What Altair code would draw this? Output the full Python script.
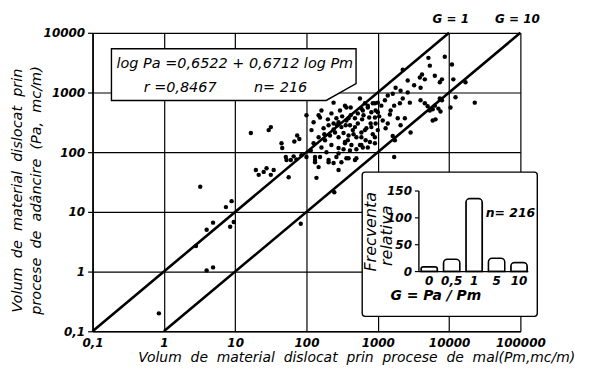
import altair as alt
import pandas as pd

FONT = "DejaVu Sans"
NB = "\u00a0"

# ---- scatter data (log10 of Pm and Pa) ----
log_pm = [
    -0.07, 0.51, 0.60, 0.69, 0.45, 0.60, 0.69, 0.87, 0.95, 0.93, 0.98, 1.92, 2.39,
    1.22, 1.47, 1.50, 1.65, 1.66, 1.87, 1.90, 1.83, 2.00, 2.17, 2.38, 1.29, 1.33, 1.40, 1.44, 1.50, 1.54,
    1.75, 1.71, 1.78, 1.82, 1.86, 1.93, 2.00, 2.06, 2.17, 2.14, 2.12, 1.72, 2.56, 2.75,
    2.19, 2.54, 2.82, 2.24, 2.31, 2.38, 2.45, 2.49, 2.56, 2.61, 2.68, 2.72, 2.79, 2.86, 2.91, 2.96,
    2.17, 2.26, 2.33, 2.40, 2.45, 2.52, 2.59, 2.65, 2.70, 2.77, 2.84, 2.91, 2.75, 2.79, 2.89, 2.96,
    2.21, 2.28, 2.35, 2.45, 2.54, 2.61, 2.19, 2.31, 2.42, 2.49, 2.59, 2.68, 2.38, 2.12, 2.10, 2.07, 2.10, 2.45,
    2.21, 2.35, 2.42, 2.59, 2.77, 2.86, 2.93, 3.00, 3.00, 2.96, 2.97, 3.00, 2.96, 2.82, 2.68, 2.77, 2.63,
    2.77, 2.86, 2.54, 2.45, 2.56, 2.70, 2.31, 2.12,
    3.35, 3.71, 3.94, 3.73, 4.04, 3.59, 3.62, 3.66, 3.80, 3.42, 3.87, 3.90, 4.06, 4.23, 3.51, 3.60, 3.25,
    3.32, 3.42, 3.21, 3.35, 3.45, 3.60, 3.66, 3.70, 3.80, 3.87, 3.90, 3.73, 3.77, 3.85, 3.88, 4.09, 4.02,
    4.36, 3.77, 3.81, 3.23, 3.31, 3.18, 3.17, 3.28, 3.38, 3.14, 3.11, 3.32, 3.46, 3.10, 3.14, 3.05, 3.07,
    3.21, 3.24, 3.23,
    2.30, 2.38, 2.50, 2.55, 2.62, 2.66, 2.72, 2.78, 2.83, 2.88, 2.93, 2.97, 2.25, 2.43, 2.52, 2.58, 2.70,
    2.80, 2.90, 3.02, 2.47, 2.62,
]
log_pa = [
    -0.70, 1.42, 0.02, 0.07, 0.43, 0.70, 0.82, 1.08, 1.18, 0.75, 0.83, 0.80, 1.33,
    2.32, 2.37, 2.42, 2.15, 2.07, 2.28, 2.22, 2.18, 2.62, 2.62, 2.83, 1.70, 1.62, 1.67, 1.73, 1.62, 1.70,
    1.58, 1.92, 1.87, 1.93, 1.88, 1.95, 1.92, 2.03, 1.75, 1.57, 1.87, 1.87, 2.75, 2.90,
    2.58, 2.78, 2.82, 2.40, 2.45, 2.48, 2.50, 2.42, 2.53, 2.45, 2.57, 2.65, 2.70, 2.75, 2.67, 2.82,
    2.25, 2.20, 2.28, 2.33, 2.25, 2.32, 2.28, 2.37, 2.25, 2.33, 2.40, 2.42, 2.12, 2.08, 2.17, 2.15,
    2.08, 2.00, 2.12, 2.07, 2.15, 2.03, 1.92, 1.87, 1.92, 1.83, 1.90, 1.87, 1.82, 1.92, 2.15, 2.37, 2.50, 1.70,
    2.70, 2.65, 2.57, 2.57, 2.73, 2.78, 2.82, 2.83, 2.67, 2.58, 2.48, 2.37, 2.25, 2.37, 2.42, 2.25, 2.12,
    2.12, 2.08, 2.17, 1.98, 1.90, 1.90, 1.83, 1.83,
    3.38, 3.58, 3.60, 3.45, 3.47, 3.25, 3.30, 3.22, 3.28, 3.20, 3.17, 3.22, 3.22, 3.17, 3.12, 3.08, 3.08,
    3.03, 3.00, 2.98, 2.90, 2.83, 2.87, 2.82, 2.77, 2.78, 2.90, 2.87, 2.70, 2.72, 2.73, 2.68, 2.92, 2.75,
    2.83, 2.53, 2.55, 2.78, 2.82, 2.70, 2.63, 2.57, 2.57, 2.48, 2.40, 2.45, 2.33, 2.87, 2.95, 2.78, 2.53,
    2.27, 2.20, 1.92,
    2.55, 2.38, 2.60, 2.45, 2.62, 2.30, 2.48, 2.55, 2.20, 2.58, 2.30, 2.70, 2.30, 2.45, 2.05, 2.20, 2.05,
    2.62, 2.48, 2.60, 2.70, 2.75,
]

x_ticks = [0.1, 1, 10, 100, 1000, 10000, 100000]
y_ticks = [0.1, 1, 10, 100, 1000, 10000]

# reference lines G = 1 and G = 10
g_names = ["G=1", "G=1", "G=10", "G=10"]
g_pm = [0.1, 10000, 1, 100000]
g_pa = [0.1, 10000, 0.1, 10000]

# equation box outline (data coordinates)
box_pm = [0.184, 189, 496]
box_lo = [736, 736, 1413]
box_hi = [5412, 5412, 5412]

# inset histogram
inset_cats = ["0", "0,5", "1", "5", "10"]
inset_vals = [9, 23, 136, 25, 17]
inset_ticks = [0, 50, 100, 150]

LBL = "datum.value < 1 ? '0,1' : format(datum.value, 'd')"


def spaced(s):
    return s.replace(" ", " " + NB)


xscale = alt.Scale(type="log", domain=[0.1, 100000])
yscale = alt.Scale(type="log", domain=[0.1, 10000])

xaxis = alt.Axis(
    values=x_ticks, labelExpr=LBL, grid=True, gridColor="black", gridWidth=1.2, gridOpacity=1,
    domain=True, domainColor="black", domainWidth=1.6, ticks=False, labelPadding=6,
    labelFont=FONT, labelFontSize=12, labelFontStyle="italic", labelFontWeight="bold",
    labelColor="black", labelFlush=False, labelOverlap=False, labelAngle=0,
    title=spaced("Volum de material dislocat prin procese de mal(Pm,mc/m)"),
    titleFont=FONT, titleFontSize=14, titleFontStyle="italic", titleFontWeight="normal",
    titleColor="black", titleX=265, titleY=26, titleBaseline="middle", titleAlign="center",
)
yaxis = alt.Axis(
    values=y_ticks, labelExpr=LBL, grid=True, gridColor="black", gridWidth=1.2, gridOpacity=1,
    domain=True, domainColor="black", domainWidth=1.6, ticks=True, tickSize=5, tickColor="black",
    tickWidth=1.2, labelPadding=3, labelFont=FONT, labelFontSize=12, labelFontStyle="italic",
    labelFontWeight="bold", labelColor="black", labelFlush=False, labelOverlap=False,
    title=[spaced("Volum de material dislocat prin"), spaced("procese de adâncire (Pa, mc/m)")],
    titleFont=FONT, titleFontSize=14.5, titleFontStyle="italic", titleFontWeight="normal",
    titleColor="black", titleX=-82, titleY=158, titleAngle=270, titleAlign="center",
    titleBaseline="top", titleLineHeight=19,
)


def X(field):
    return alt.X(field, type="quantitative", scale=xscale, axis=xaxis)


def Y(field):
    return alt.Y(field, type="quantitative", scale=yscale, axis=yaxis)


def label(text, x, y, size=12, angle=0, align="center", weight="normal", style="italic"):
    return alt.Chart(pd.DataFrame({"t": [text]})).mark_text(
        font=FONT, fontSize=size, fontStyle=style, fontWeight=weight, color="black",
        angle=angle, align=align, baseline="middle",
    ).encode(text="t:N", x=alt.value(x), y=alt.value(y))


pts = pd.DataFrame({"pm": [10 ** v for v in log_pm], "pa": [10 ** v for v in log_pa]})
gdf = pd.DataFrame({"g": g_names, "pm": g_pm, "pa": g_pa})
bdf = pd.DataFrame({"pm": box_pm, "pa": box_lo, "pa2": box_hi})

glines = alt.Chart(gdf).mark_line(color="black", strokeWidth=2.6).encode(
    x=X("pm"), y=Y("pa"), detail="g:N"
)
eqbox = alt.Chart(bdf).mark_area(
    fill="white", stroke="black", strokeWidth=1.4, orient="vertical", fillOpacity=1
).encode(x=X("pm"), y=Y("pa"), y2="pa2")
points = alt.Chart(pts).mark_circle(size=20, color="black", opacity=1).encode(
    x=X("pm"), y=Y("pa")
)

main = alt.layer(
    glines, eqbox, points,
    label("log Pa =0,6522 + 0,6712 log Pm", 143, 31, size=14.5),
    label("r =0,8467", 88, 56, size=14.5),
    label("n= 216", 189, 56, size=14.5),
    label("G = 1", 360, -14, size=12, weight="bold"),
    label("G = 10", 427, -14, size=12, weight="bold"),
)

# ---- inset ----
ixs = alt.Scale(domain=inset_cats, range=[329, 438], paddingInner=0.27, paddingOuter=0.05)
iys = alt.Scale(domain=[0, 150], range=[240, 159])
idf = pd.DataFrame({"cat": inset_cats, "val": inset_vals})
tdf = pd.DataFrame({"v": inset_ticks})

ibox = alt.Chart(pd.DataFrame({"a": [0]})).mark_rect(
    fill="white", stroke="black", strokeWidth=1.4, cornerRadius=3
).encode(x=alt.value(271), x2=alt.value(447), y=alt.value(140), y2=alt.value(285))
ibars = alt.Chart(idf).mark_bar(
    fill="white", stroke="black", strokeWidth=1.5, cornerRadiusTopLeft=4, cornerRadiusTopRight=4
).encode(
    x=alt.X("cat:N", scale=ixs, sort=inset_cats, axis=None),
    y=alt.Y("val:Q", scale=iys, axis=None),
)
iyline = alt.Chart(pd.DataFrame({"a": [0], "b": [150]})).mark_rule(color="black", strokeWidth=1.4).encode(
    x=alt.value(328), y=alt.Y("a:Q", scale=iys, axis=None), y2="b:Q"
)
ibase = alt.Chart(pd.DataFrame({"a": [0]})).mark_rule(color="black", strokeWidth=1.4).encode(
    x=alt.value(328), x2=alt.value(438), y=alt.Y("a:Q", scale=iys, axis=None)
)
iticks = alt.Chart(tdf).mark_rule(color="black", strokeWidth=1.2).encode(
    x=alt.value(324), x2=alt.value(328), y=alt.Y("v:Q", scale=iys, axis=None)
)
iticklbl = alt.Chart(tdf).mark_text(
    font=FONT, fontSize=12, fontStyle="italic", fontWeight="bold", color="black", align="right",
    baseline="middle",
).encode(x=alt.value(321), y=alt.Y("v:Q", scale=iys, axis=None), text="v:Q")
icatlbl = alt.Chart(idf).mark_text(
    font=FONT, fontSize=12, fontStyle="italic", fontWeight="bold", color="black", baseline="middle"
).encode(x=alt.X("cat:N", scale=ixs, sort=inset_cats, axis=None), y=alt.value(249), text="cat:N")

inset = alt.layer(
    ibox, ibars, iyline, ibase, iticks, iticklbl, icatlbl,
    label("n= 216", 420, 181, size=12.5, weight="bold"),
    label("G = Pa / Pm", 345, 265, size=14, weight="bold"),
    label("Frecventa", 280, 200, size=16, angle=270),
    label("relativa", 296, 204, size=16, angle=270),
)

chart = alt.layer(main, inset).resolve_scale(x="independent", y="independent").properties(
    width=430, height=300,
    autosize=alt.AutoSizeParams(type="none"),
    padding={"left": 85, "top": 24, "right": 75, "bottom": 38},
).configure_view(stroke=None)

chart.save("out.html", embed_options={"renderer": "svg", "actions": False})
